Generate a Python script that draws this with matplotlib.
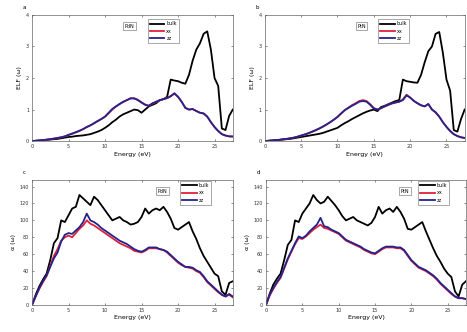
import matplotlib
matplotlib.use('Agg')
import matplotlib.pyplot as plt
import numpy as np

matplotlib.rcParams['font.family'] = 'DejaVu Sans'
matplotlib.rcParams['font.size'] = 4
matplotlib.rcParams['xtick.direction'] = 'in'
matplotlib.rcParams['ytick.direction'] = 'in'

energy = np.arange(0, 27.75, 0.5)  # eV

# loss function, left compound
elf_pdn_bulk = [0, 0.01, 0.02, 0.03, 0.04, 0.05, 0.06, 0.07, 0.09, 0.11,
                0.13, 0.14, 0.16, 0.17, 0.18, 0.2, 0.22, 0.26, 0.3, 0.35,
                0.42, 0.5, 0.6, 0.68, 0.78, 0.85, 0.9, 0.95, 1.0, 0.98,
                0.9, 1.0, 1.1, 1.15, 1.2, 1.3, 1.33, 1.4, 1.95, 1.92,
                1.9, 1.85, 1.82, 2.1, 2.55, 2.9, 3.1, 3.4, 3.48, 2.9,
                2.0, 1.75, 0.4, 0.35, 0.8, 1.0]
elf_pdn_xx = [0, 0.01, 0.02, 0.03, 0.04, 0.06, 0.08, 0.1, 0.12, 0.15,
              0.19, 0.23, 0.28, 0.32, 0.38, 0.44, 0.5, 0.56, 0.63, 0.7,
              0.77, 0.88, 1.0, 1.1, 1.17, 1.24, 1.3, 1.35, 1.36, 1.31,
              1.23, 1.16, 1.12, 1.19, 1.24, 1.29, 1.33, 1.37, 1.43, 1.5,
              1.41, 1.24, 1.06, 1.0, 1.01, 0.96, 0.9, 0.87, 0.77, 0.6,
              0.44, 0.32, 0.22, 0.17, 0.15, 0.14]
elf_pdn_zz = [0, 0.01, 0.02, 0.03, 0.05, 0.06, 0.08, 0.1, 0.12, 0.15,
              0.2, 0.24, 0.28, 0.33, 0.38, 0.45, 0.5, 0.57, 0.64, 0.7,
              0.78, 0.9, 1.02, 1.1, 1.18, 1.25, 1.3, 1.36, 1.35, 1.3,
              1.22, 1.15, 1.12, 1.2, 1.25, 1.3, 1.33, 1.36, 1.42, 1.52,
              1.4, 1.25, 1.05, 1.0, 1.02, 0.95, 0.9, 0.88, 0.78, 0.6,
              0.45, 0.32, 0.22, 0.18, 0.15, 0.15]

# loss function, right compound
elf_ptn_bulk = [0, 0.01, 0.02, 0.03, 0.04, 0.05, 0.06, 0.07, 0.09, 0.11,
                0.13, 0.15, 0.17, 0.19, 0.21, 0.23, 0.26, 0.3, 0.34, 0.38,
                0.42, 0.5, 0.57, 0.63, 0.7, 0.76, 0.82, 0.88, 0.93, 0.97,
                1.0, 0.95, 1.08, 1.12, 1.17, 1.22, 1.27, 1.3, 1.95, 1.9,
                1.88, 1.86, 1.85, 2.1, 2.5, 2.85, 3.0, 3.4, 3.46, 2.8,
                1.95, 1.6, 0.35, 0.3, 0.7, 1.0]
elf_ptn_xx = [0, 0.01, 0.02, 0.03, 0.04, 0.05, 0.07, 0.09, 0.11, 0.14,
              0.17, 0.21, 0.25, 0.29, 0.34, 0.4, 0.46, 0.52, 0.6, 0.68,
              0.76, 0.87, 0.98, 1.06, 1.14, 1.2, 1.27, 1.3, 1.27, 1.17,
              1.05, 1.0, 1.04, 1.1, 1.15, 1.19, 1.22, 1.25, 1.32, 1.47,
              1.38, 1.27, 1.2, 1.13, 1.1, 1.17, 1.0, 0.9, 0.77, 0.6,
              0.45, 0.32, 0.22, 0.16, 0.12, 0.1]
elf_ptn_zz = [0, 0.01, 0.02, 0.03, 0.04, 0.06, 0.07, 0.09, 0.11, 0.14,
              0.18, 0.21, 0.25, 0.3, 0.35, 0.4, 0.46, 0.53, 0.6, 0.68,
              0.77, 0.88, 0.98, 1.05, 1.12, 1.18, 1.25, 1.27, 1.25, 1.15,
              1.03, 1.0, 1.05, 1.1, 1.15, 1.2, 1.23, 1.25, 1.3, 1.45,
              1.38, 1.28, 1.2, 1.14, 1.1, 1.18, 1.0, 0.92, 0.78, 0.6,
              0.45, 0.32, 0.22, 0.16, 0.12, 0.1]

# absorption, left compound
abs_pdn_bulk = [0, 12, 22, 30, 37, 53, 73, 79, 100, 98,
                106, 114, 116, 130, 126, 122, 118, 128, 124, 118,
                112, 106, 100, 102, 104, 100, 98, 95, 96, 98,
                104, 114, 108, 112, 114, 112, 116, 110, 102, 91,
                89, 92, 95, 98, 87, 78, 67, 58, 51, 44,
                37, 34, 16, 12, 26, 28]
abs_pdn_xx = [0, 10, 19, 27, 34, 46, 58, 66, 76, 80,
              82, 80, 85, 90, 94, 100, 96, 94, 91, 88,
              85, 82, 79, 76, 73, 71, 69, 67, 64, 63,
              62, 64, 67, 67, 67, 66, 65, 62, 58, 54,
              50, 47, 45, 44, 43, 40, 38, 33, 27, 23,
              19, 15, 12, 10, 12, 9]
abs_pdn_zz = [0, 10, 20, 28, 35, 45, 55, 62, 75, 83,
              85, 84, 88, 92, 98, 108, 100, 98, 95, 91,
              88, 85, 82, 79, 76, 74, 72, 69, 66, 64,
              63, 65, 68, 68, 68, 66, 65, 63, 59, 55,
              51, 48, 45, 45, 44, 41, 39, 34, 28, 24,
              20, 16, 12, 10, 13, 10]

# absorption, right compound
abs_ptn_bulk = [0, 13, 24, 31, 37, 53, 71, 77, 100, 98,
                108, 114, 120, 130, 124, 120, 122, 128, 123, 118,
                112, 105, 100, 102, 104, 100, 98, 96, 94, 97,
                104, 116, 108, 112, 114, 110, 116, 110, 102, 90,
                89, 92, 95, 98, 87, 77, 67, 58, 51, 43,
                37, 33, 16, 10, 24, 28]
abs_ptn_xx = [0, 11, 19, 26, 32, 43, 54, 63, 72, 79,
              78, 81, 85, 89, 92, 95, 91, 90, 88, 86,
              84, 80, 76, 74, 72, 70, 68, 65, 63, 61,
              60, 63, 66, 68, 68, 68, 67, 67, 64, 58,
              52, 48, 44, 42, 40, 37, 34, 30, 25, 21,
              17, 13, 10, 8, 8, 7]
abs_ptn_zz = [0, 12, 20, 27, 33, 44, 55, 64, 73, 81,
              79, 82, 87, 91, 95, 103, 93, 92, 89, 87,
              85, 81, 77, 75, 73, 71, 69, 66, 64, 62,
              61, 64, 67, 69, 69, 69, 68, 68, 65, 59,
              53, 49, 45, 43, 41, 38, 35, 31, 26, 22,
              18, 14, 10, 8, 8, 7]

series_labels = ['bulk', 'xx', 'zz']
colors = ['black', '#e0203a', '#23238c']

fig = plt.figure(figsize=(4.67, 3.32), dpi=100)
axes = [fig.add_axes([0.0685, 0.575, 0.430, 0.380]),
        fig.add_axes([0.567, 0.575, 0.428, 0.380]),
        fig.add_axes([0.0685, 0.0815, 0.430, 0.377]),
        fig.add_axes([0.5696, 0.0815, 0.428, 0.377])]

panels = [
    (axes[0], [elf_pdn_bulk, elf_pdn_xx, elf_pdn_zz], 'PdN', 'ELF (ω)', 'a',
     (0.485, 0.91), (0.565, 0.985)),
    (axes[1], [elf_ptn_bulk, elf_ptn_xx, elf_ptn_zz], 'PtN', 'ELF (ω)', 'b',
     (0.485, 0.91), (0.555, 0.985)),
    (axes[2], [abs_pdn_bulk, abs_pdn_xx, abs_pdn_zz], 'PdN', 'α (ω)', 'c',
     (0.65, 0.91), (0.725, 1.01)),
    (axes[3], [abs_ptn_bulk, abs_ptn_xx, abs_ptn_zz], 'PtN', 'α (ω)', 'd',
     (0.695, 0.91), (0.75, 1.01)),
]

for i, (ax, data, name, ylab, letter, txtpos, legpos) in enumerate(panels):
    for vals, lab, c in zip(data, series_labels, colors):
        ax.plot(energy, vals, color=c, lw=1.3, label=lab)
    ax.set_xlim(0, 27.5)
    ax.set_xticks([0, 5, 10, 15, 20, 25])
    if i < 2:
        ax.set_ylim(0, 4)
        ax.set_yticks([0, 1, 2, 3, 4])
    else:
        ax.set_ylim(0, 148)
        ax.set_yticks([0, 20, 40, 60, 80, 100, 120, 140])
    ax.set_xlabel('Energy (eV)', fontsize=4.5, labelpad=2)
    ax.set_ylabel(ylab, fontsize=4.5, labelpad=3)
    ax.tick_params(length=1.5, width=0.4, pad=2, top=True, right=True,
                   labelsize=3.5, colors='#333333')
    for s in ax.spines.values():
        s.set_linewidth(0.5)
        s.set_color('#666666')
    ax.text(txtpos[0], txtpos[1], name, transform=ax.transAxes, fontsize=3.5,
            ha='center', va='center',
            bbox=dict(boxstyle='square,pad=0.3', fc='white', ec='#666666', lw=0.4))
    ax.text(-0.03, 1.04, letter, transform=ax.transAxes, fontsize=4,
            ha='right', va='bottom')
    leg = ax.legend(loc='upper left', bbox_to_anchor=legpos, fontsize=3.5,
                    handlelength=3, handletextpad=0.4, borderpad=0.4,
                    labelspacing=0.5, fancybox=False, framealpha=1)
    leg.get_frame().set_linewidth(0.4)
    leg.get_frame().set_edgecolor('#666666')

plt.savefig('out.png', dpi=100)
